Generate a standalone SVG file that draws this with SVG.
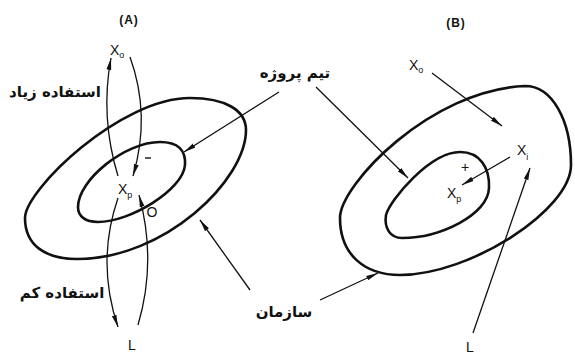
<svg xmlns="http://www.w3.org/2000/svg" width="575" height="356" viewBox="0 0 575 356">
<style>
.shape{fill:none;stroke:#111;stroke-width:2.6;stroke-linejoin:round}
.con{fill:none;stroke:#111;stroke-width:1.3}
.lat{font-family:"Liberation Sans",Arial,sans-serif;font-size:14px;fill:#111}
.sub{font-size:9px}
.hdr{font-family:"Liberation Sans",Arial,sans-serif;font-size:12px;font-weight:bold;fill:#111;letter-spacing:1px}
.fa{font-family:"DejaVu Sans",sans-serif;font-size:15px;font-weight:bold;fill:#111}
</style>
<defs>
<marker id="ah" viewBox="0 0 12 6" refX="12" refY="3" markerWidth="12" markerHeight="6" markerUnits="userSpaceOnUse" orient="auto">
<path d="M0,0.6 L12,3 L0,5.4 Z" fill="#111"/>
</marker>
</defs>
<rect width="575" height="356" fill="#fff"/>

<g id="panel-a">
<text class="hdr" x="129" y="24" text-anchor="middle">(A)</text>
<g id="a-outer"><path class="shape" d="M25,218 C25,190 120,98 190,98 C225,98 246,110 246,130 C246,180 165,259 77,259 C45,259 25,245 25,218 Z"/></g>
<g id="a-inner"><path class="shape" d="M78,207 C78,180 125,142 160,142 C178,142 186,150 185,165 C183,190 130,222 98,222 C85,222 78,216 78,207 Z"/></g>
<g id="a-xo"><text class="lat" x="110" y="55">X<tspan class="sub" dy="3">o</tspan></text></g>
<g id="a-xp"><text class="lat" x="118" y="194">X<tspan class="sub" dy="4">p</tspan></text></g>
<g id="a-minus"><line x1="145" y1="158" x2="151" y2="158" stroke="#111" stroke-width="1.4"/></g>
<g id="a-o"><text class="lat" x="152" y="217" text-anchor="middle">O</text></g>
<g id="a-l"><text class="lat" x="132" y="350" text-anchor="middle">L</text></g>
<g id="a-high"><text class="fa" x="55" y="97" text-anchor="middle">استفاده زیاد</text></g>
<g id="a-low"><text class="fa" x="62" y="298" text-anchor="middle">استفاده کم</text></g>
</g>

<g id="labels">
<g id="team"><text class="fa" x="295" y="78" text-anchor="middle">تیم پروژه</text></g>
<g id="org"><text class="fa" x="284" y="317" text-anchor="middle">سازمان</text></g>
</g>

<g id="panel-b">
<text class="hdr" x="456" y="27" text-anchor="middle">(B)</text>
<g id="b-outer"><path class="shape" d="M525,86 C552,86 571,120 571,165 C571,210 470,275 400,275 C365,275 340,255 340,218 C340,185 430,90 525,86 Z"/></g>
<g id="b-inner"><path class="shape" d="M460,152 C480,152 490,168 489,188 C488,215 440,238 402,238 C390,238 384,228 386,215 C390,200 430,152 460,152 Z"/></g>
<g id="b-xo"><text class="lat" x="409" y="70">X<tspan class="sub" dy="3">o</tspan></text></g>
<g id="b-xi"><text class="lat" x="517" y="155">X<tspan class="sub" dy="5">i</tspan></text></g>
<g id="b-plus"><text class="lat" x="465" y="172" text-anchor="middle">+</text></g>
<g id="b-xp"><text class="lat" x="447" y="198">X<tspan class="sub" dy="4">p</tspan></text></g>
<g id="b-l"><text class="lat" x="470" y="352" text-anchor="middle">L</text></g>
</g>

<g id="connectors">
<path class="con" d="M118,176 Q100,117 111,58" marker-end="url(#ah)"/>
<path class="con" d="M130,57 Q151,115 133,176" marker-end="url(#ah)"/>
<path class="con" d="M118,198 Q96,262 118,327" marker-end="url(#ah)"/>
<path class="con" d="M138,325 Q157,261 139,195" marker-end="url(#ah)"/>
<line class="con" x1="279" y1="92" x2="184" y2="152" marker-end="url(#ah)"/>
<line class="con" x1="316" y1="87" x2="408" y2="178" marker-end="url(#ah)"/>
<line class="con" x1="250" y1="290" x2="200" y2="220" marker-end="url(#ah)"/>
<line class="con" x1="320" y1="300" x2="378" y2="273" marker-end="url(#ah)"/>
<line class="con" x1="432" y1="73" x2="502" y2="126" marker-end="url(#ah)"/>
<line class="con" x1="510" y1="157" x2="462" y2="185" marker-end="url(#ah)"/>
<line class="con" x1="473" y1="333" x2="530" y2="168" marker-end="url(#ah)"/>
</g>
</svg>
